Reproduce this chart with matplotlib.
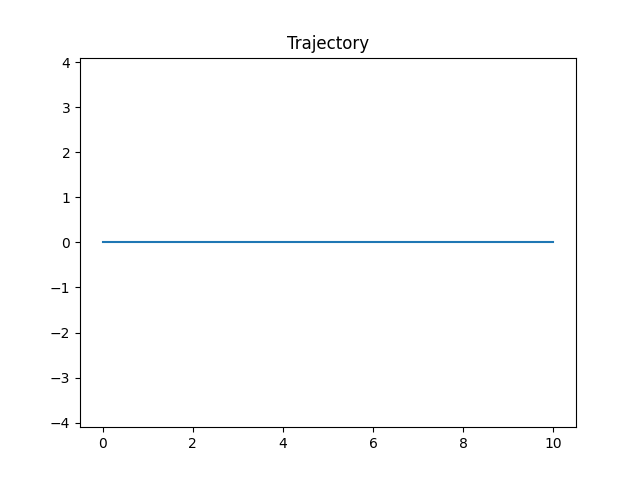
import matplotlib
matplotlib.use("Agg")
import matplotlib.pyplot as plt

# trajectory samples (flat at zero)
t = [0, 2, 4, 6, 8, 10]
pos = [0, 0, 0, 0, 0, 0]

fig, ax = plt.subplots(figsize=(6.4, 4.8), dpi=100)
ax.plot(t, pos)
ax.set_aspect("equal", adjustable="datalim")
ax.set_title("Trajectory")
fig.savefig("out.png", dpi=100)
